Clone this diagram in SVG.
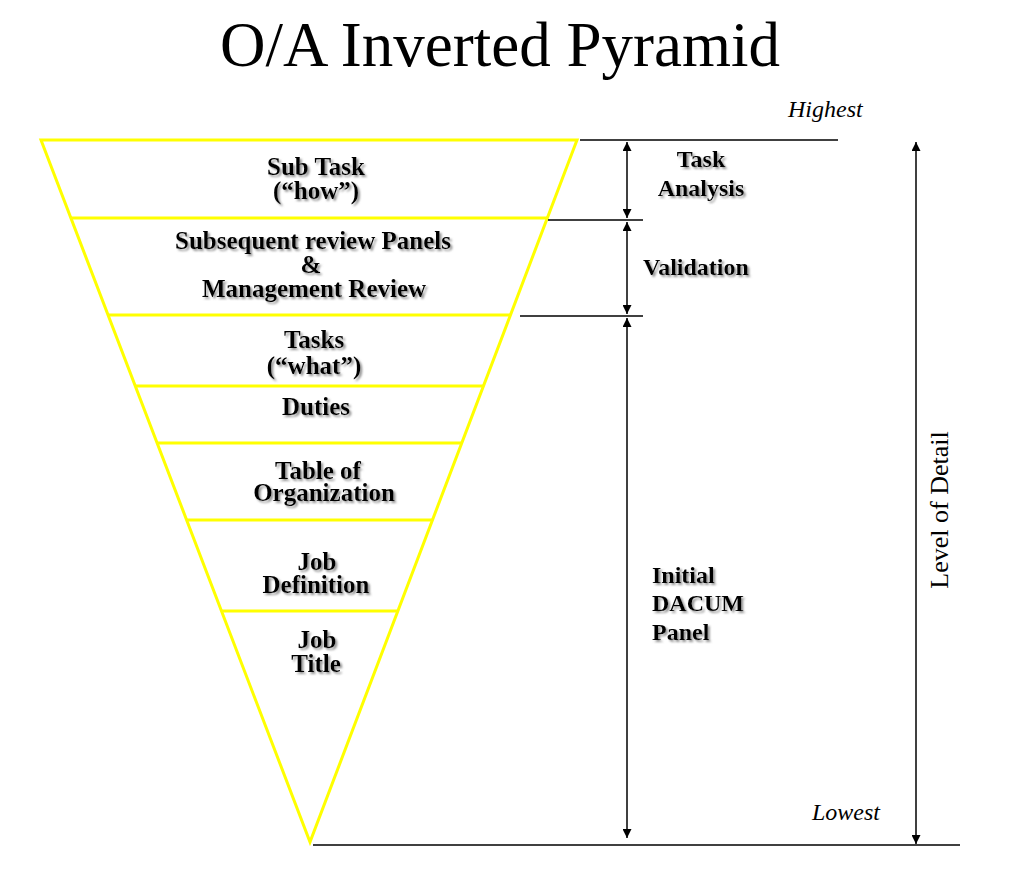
<svg xmlns="http://www.w3.org/2000/svg" width="1024" height="870" viewBox="0 0 1024 870">
<defs>
<marker id="ah" viewBox="0 0 10 10" refX="10" refY="5" markerWidth="9" markerHeight="9" markerUnits="userSpaceOnUse" orient="auto-start-reverse">
<path d="M0,0 L10,5 L0,10 Z" fill="#000"/>
</marker>
<filter id="sh" x="-10%" y="-30%" width="120%" height="160%">
<feDropShadow dx="2" dy="2" stdDeviation="0.8" flood-color="#888" flood-opacity="0.9"/>
</filter>
</defs>
<style>
.y{stroke:#FFFF00;stroke-width:3;fill:none}
.k{stroke:#000;stroke-width:1.5;fill:none}
.b{font-family:"Liberation Serif","Times New Roman",serif;font-weight:bold;font-size:25px;fill:#000;text-anchor:middle;filter:url(#sh)}
.r{font-size:24px;text-anchor:start}
.i{font-family:"Liberation Serif","Times New Roman",serif;font-style:italic;font-size:24px;fill:#000}
.n{font-family:"Liberation Serif","Times New Roman",serif;font-size:26px;fill:#000}
</style>
<rect width="1024" height="870" fill="#fff"/>
<text x="500" y="66" class="n" style="font-size:63px" text-anchor="middle">O/A Inverted Pyramid</text>

<g id="pyramid">
<polygon class="y" points="41,140 577,140 310,842"/>
<line class="y" x1="71" y1="218" x2="547" y2="218"/>
<line class="y" x1="108" y1="315" x2="511" y2="315"/>
<line class="y" x1="135" y1="386" x2="484" y2="386"/>
<line class="y" x1="157" y1="443" x2="462" y2="443"/>
<line class="y" x1="186" y1="520" x2="432" y2="520"/>
<line class="y" x1="221" y1="611" x2="398" y2="611"/>
</g>

<g id="n-subtask"><text class="b" x="316" y="175">Sub Task</text><text class="b" x="316" y="199">(“how”)</text></g>
<g id="n-review"><text class="b" x="313" y="249">Subsequent review Panels</text><text class="b" x="311" y="273">&amp;</text><text class="b" x="314" y="297">Management Review</text></g>
<g id="n-tasks"><text class="b" x="314" y="348">Tasks</text><text class="b" x="314" y="374">(“what”)</text></g>
<g id="n-duties"><text class="b" x="316" y="415">Duties</text></g>
<g id="n-table"><text class="b" x="318" y="479">Table of</text><text class="b" x="324" y="501">Organization</text></g>
<g id="n-jobdef"><text class="b" x="317" y="570">Job</text><text class="b" x="316" y="593">Definition</text></g>
<g id="n-jobtitle"><text class="b" x="317" y="648">Job</text><text class="b" x="316" y="672">Title</text></g>

<g id="connectors">
<line class="k" x1="580" y1="140" x2="838" y2="140"/>
<line class="k" x1="548" y1="220" x2="643" y2="220"/>
<line class="k" x1="520" y1="316" x2="643" y2="316"/>
<line class="k" x1="313" y1="845" x2="960" y2="845"/>
<line class="k" x1="627" y1="142" x2="627" y2="218" marker-start="url(#ah)" marker-end="url(#ah)"/>
<line class="k" x1="627" y1="222" x2="627" y2="314" marker-start="url(#ah)" marker-end="url(#ah)"/>
<line class="k" x1="627" y1="318" x2="627" y2="838" marker-start="url(#ah)" marker-end="url(#ah)"/>
<line class="k" x1="916" y1="142" x2="916" y2="844" marker-start="url(#ah)" marker-end="url(#ah)"/>
</g>

<g id="l-task-analysis"><text class="b" style="font-size:24px" x="701" y="167">Task</text><text class="b" style="font-size:24px" x="701" y="196">Analysis</text></g>
<g id="l-validation"><text class="b r" x="643" y="275">Validation</text></g>
<g id="l-dacum"><text class="b r" x="652" y="583">Initial</text><text class="b r" x="652" y="611">DACUM</text><text class="b r" x="652" y="640">Panel</text></g>
<g id="l-highest"><text class="i" x="788" y="117">Highest</text></g>
<g id="l-lowest"><text class="i" x="812" y="820">Lowest</text></g>
<g id="l-level"><text class="n" transform="translate(948,510) rotate(-90)" text-anchor="middle">Level of Detail</text></g>
</svg>
